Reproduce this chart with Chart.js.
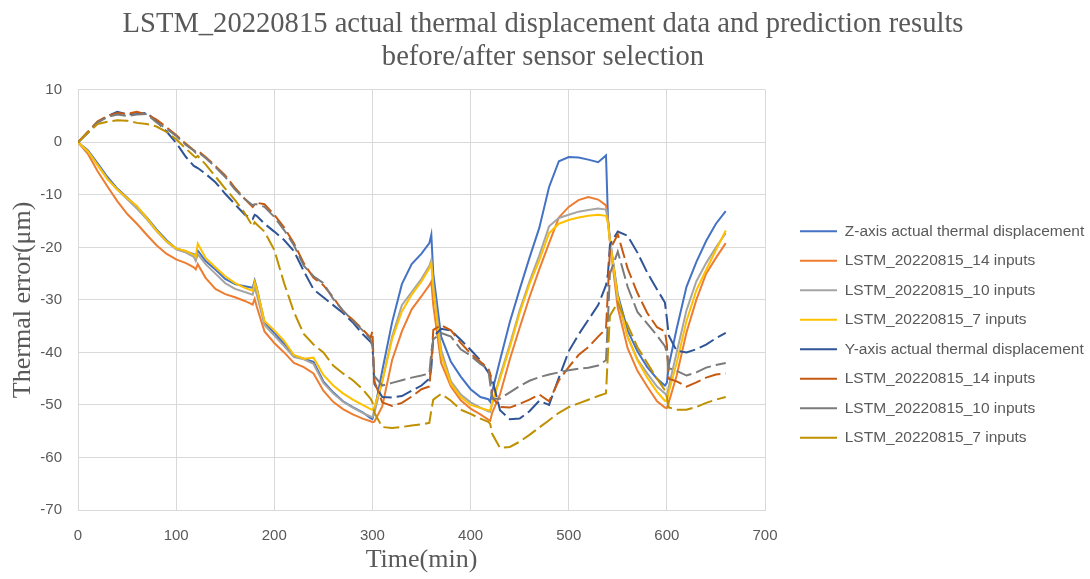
<!DOCTYPE html>
<html><head><meta charset="utf-8">
<script src="https://cdn.jsdelivr.net/npm/chart.js@4/dist/chart.umd.min.js"></script>
<style>html,body{margin:0;padding:0;background:#fff;}canvas{display:block;}</style>
</head><body>
<canvas id="c" width="1090" height="579"></canvas>
<script>
const titleLines = ['LSTM_20220815 actual thermal displacement data and prediction results', 'before/after sensor selection'];
const xTitle = 'Time(min)';
const yTitle = 'Thermal error(\u03bcm)';
const xTicksRange = { min: 0, max: 700, step: 100 };
const yTicksRange = { min: -70, max: 10, step: 10 };

const seriesNames = [
  'Z-axis actual thermal displacement',
  'LSTM_20220815_14 inputs',
  'LSTM_20220815_10 inputs',
  'LSTM_20220815_7 inputs',
  'Y-axis actual thermal displacement',
  'LSTM_20220815_14 inputs',
  'LSTM_20220815_10 inputs',
  'LSTM_20220815_7 inputs'
];

const times = [0,10,20,30,40,50,60,70,80,90,100,110, 118,120,122, 130,140,150,160,170, 178,180,182,
  190,200,210,220,230,240,250,260,270,280,290, 298,300,302, 310,320,330,340,350, 358,360,362,
  370,380,390,400,410, 418,420,422, 430,440,450,460,470,480,490,500,510,520,530, 538,540,542,
  550,560,570,580,590, 598,600,602, 610,620,630,640,650,660];

const zActual = [0,-1.5,-4.0,-6.6,-8.8,-10.5,-12.3,-14.3,-16.6,-18.6,-20.2,-20.8,
  -21.3,-21.6,-20.6, -22.6,-24.2,-26.0,-27.0,-27.4, -27.7,-26.3,-27.6,
  -34.2,-36.3,-38.3,-40.6,-41.2,-41.8,-45.5,-47.6,-49.3,-50.4,-51.4, -52.5,-52.7,-51.2,
  -43.5,-34.3,-27.0,-23.2,-21.2, -19.2,-17.6,-25.0,
  -37.0,-41.8,-44.6,-47.0,-48.5, -48.9,-49.4,-47.5,
  -41.5,-34.2,-28.0,-22.0,-16.3,-8.5,-3.6,-2.8,-2.9,-3.3,-3.8, -2.5,-14.5,-18.5,
  -29.0,-35.8,-39.8,-42.8,-45.0, -46.3,-45.8,-42.5, -35.5,-27.5,-22.8,-18.8,-15.5,-13.1];

const zLstm14 = [0,-2.2,-5.5,-8.4,-11.2,-13.6,-15.5,-17.6,-19.6,-21.2,-22.3,-23.0,
  -23.8,-24.2,-23.2, -25.8,-27.9,-28.9,-29.5,-30.2, -30.9,-29.8,-31.2,
  -36.0,-38.2,-40.0,-42.0,-42.8,-44.0,-47.3,-49.4,-50.8,-51.8,-52.6, -53.1,-53.3,-53.2,
  -50.3,-41.5,-36.0,-31.8,-29.3, -27.2,-26.5,-31.0,
  -42.0,-46.5,-49.1,-50.7,-51.8, -52.8,-53.0,-51.5,
  -48.0,-41.3,-35.3,-29.5,-24.2,-19.2,-14.3,-12.3,-11.0,-10.4,-10.9, -12.0,-15.0,-19.0,
  -31.5,-39.2,-43.5,-46.5,-49.3, -50.5,-50.6,-49.5, -44.4,-36.2,-30.0,-25.0,-22.0,-19.2];

const zLstm10 = [0,-1.8,-4.3,-6.9,-9.0,-10.8,-12.6,-14.6,-16.9,-18.9,-20.4,-21.0,
  -21.8,-22.6,-21.3, -23.2,-25.0,-26.8,-27.9,-28.5, -29.0,-27.6,-28.9,
  -34.8,-36.8,-38.8,-40.9,-41.3,-42.2,-45.8,-47.8,-49.4,-50.5,-51.5, -52.2,-52.3,-51.5,
  -45.5,-37.0,-31.0,-28.5,-26.0, -23.5,-22.4,-27.0,
  -39.5,-45.5,-48.0,-49.5,-50.5, -51.2,-51.3,-49.8,
  -44.5,-38.5,-32.0,-26.5,-21.5,-16.0,-14.4,-13.8,-13.2,-12.9,-12.6, -12.8,-15.0,-18.5,
  -30.0,-37.0,-41.3,-44.0,-46.5, -47.8,-48.2,-46.5, -40.0,-32.0,-26.5,-23.0,-20.0,-17.3];

const zLstm7 = [0,-1.7,-4.4,-7.0,-9.0,-10.6,-12.1,-14.4,-16.8,-18.8,-20.2,-20.7,
  -21.4,-21.8,-19.3, -22.0,-23.8,-25.5,-26.8,-27.7, -28.3,-26.6,-27.8,
  -34.0,-35.8,-37.8,-40.5,-41.2,-41.0,-44.3,-46.3,-47.8,-49.0,-50.0, -50.8,-50.9,-50.4,
  -45.6,-37.5,-32.2,-29.0,-26.5, -24.0,-23.0,-28.0,
  -40.5,-46.0,-48.5,-50.0,-50.6, -51.0,-51.0,-49.6,
  -45.0,-39.0,-32.5,-27.0,-22.5,-17.3,-15.5,-14.8,-14.3,-14.0,-13.8, -14.0,-15.5,-18.8,
  -29.5,-37.0,-41.5,-44.8,-47.5, -49.2,-49.3,-47.5, -42.0,-34.0,-28.2,-24.3,-20.5,-16.8];

const yActual = [0,1.8,3.8,5.0,5.8,5.3,5.4,5.6,4.0,2.1,-0.1,-2.8,
  -4.5,-4.7,-4.9, -6.0,-7.6,-9.8,-11.8,-13.8, -14.6,-13.8,-14.0,
  -15.5,-17.0,-18.6,-20.7,-24.5,-28.0,-29.5,-31.0,-32.5,-34.3,-36.5, -38.0,-38.4,-46.0,
  -48.5,-48.6,-48.3,-47.3,-46.3, -45.0,-43.0,-37.0,
  -35.5,-35.8,-37.6,-39.5,-41.5, -43.8,-44.3,-45.0,
  -51.0,-52.7,-52.6,-51.2,-49.2,-50.0,-44.8,-39.8,-36.6,-33.8,-31.0, -27.2,-25.0,-19.5,
  -17.0,-17.8,-21.0,-24.8,-28.0, -30.5,-33.5,-36.8, -39.7,-40.0,-39.4,-38.5,-37.3,-36.3];

const yLstm14 = [0,2.0,4.0,5.0,5.6,5.4,5.8,5.3,4.3,2.9,1.4,-0.3,
  -1.5,-1.8,-1.6, -2.8,-4.5,-6.3,-8.7,-10.8, -12.3,-11.8,-11.5,
  -11.8,-13.8,-16.2,-19.2,-23.0,-25.8,-27.2,-29.5,-32.2,-33.8,-35.6, -37.2,-36.0,-45.5,
  -49.5,-50.2,-49.6,-48.4,-47.0, -46.5,-42.0,-35.7,
  -34.8,-35.8,-38.2,-40.2,-41.8, -43.0,-44.0,-48.5,
  -50.4,-50.5,-49.8,-49.0,-48.0,-49.3,-45.3,-42.8,-40.5,-39.0,-37.0, -35.5,-28.0,-20.5,
  -17.5,-24.0,-28.7,-32.5,-35.2, -36.0,-38.5,-45.0, -45.5,-46.5,-45.7,-44.8,-44.2,-44.0];

const yLstm10 = [0,1.8,3.8,4.8,5.3,5.0,5.3,5.4,3.8,2.6,1.2,-0.5,
  -1.6,-2.0,-1.8, -3.0,-4.7,-6.6,-9.0,-10.8, -12.0,-11.8,-11.8,
  -12.3,-14.2,-16.7,-19.6,-23.5,-25.5,-26.8,-29.8,-32.0,-34.0,-35.8, -37.5,-38.9,-44.5,
  -46.3,-45.8,-45.3,-44.8,-44.4, -44.0,-40.0,-37.5,
  -36.3,-37.0,-39.4,-40.6,-42.2, -43.2,-46.0,-48.8,
  -48.8,-47.6,-46.4,-45.4,-44.7,-44.2,-43.8,-43.4,-43.1,-42.9,-42.5, -41.5,-33.5,-25.0,
  -20.8,-27.5,-32.3,-34.5,-36.8, -38.8,-40.0,-43.0, -43.5,-44.4,-43.8,-42.9,-42.4,-42.0];

const yLstm7 = [0,1.8,3.5,3.9,4.2,4.1,3.7,3.5,3.0,2.0,0.6,-1.2,
  -2.6,-2.9,-2.6, -4.2,-6.5,-8.8,-11.0,-13.5, -16.0,-15.2,-15.6,
  -17.0,-20.5,-26.8,-32.3,-36.5,-38.5,-40.0,-42.5,-44.0,-45.3,-47.0, -48.8,-49.5,-51.5,
  -54.2,-54.4,-54.2,-53.9,-53.7, -53.4,-51.0,-49.0,
  -47.9,-49.2,-50.9,-51.7,-52.6, -53.2,-53.6,-55.5,
  -58.2,-58.0,-57.0,-55.7,-54.3,-52.9,-51.5,-50.4,-49.7,-49.0,-48.3, -47.8,-40.0,-33.0,
  -30.5,-34.8,-39.0,-42.0,-45.0, -47.2,-48.5,-50.5, -50.9,-50.9,-50.4,-49.6,-49.0,-48.5];

const seriesValues = [zActual, zLstm14, zLstm10, zLstm7, yActual, yLstm14, yLstm10, yLstm7];
const seriesColors = ['#4472C4','#ED7D31','#A5A5A5','#FFC000','#2F5597','#C55A11','#7B7B7B','#BF9000'];
const seriesDashed = [false,false,false,false,true,true,true,true];

const datasets = seriesValues.map((vals, i) => ({
  label: seriesNames[i],
  data: times.map((t, k) => ({ x: t, y: vals[k] })),
  borderColor: seriesColors[i],
  backgroundColor: seriesColors[i],
  borderWidth: 2,
  borderDash: seriesDashed[i] ? [16, 5] : [],
  pointRadius: 0,
  tension: 0,
  fill: false,
  order: seriesValues.length - i
}));

// nudges for the legend and title blocks after Chart.js lays them out
const boxShift = {
  id: 'boxShift',
  afterLayout(chart) {
    const lg = chart.legend;
    if (lg) {
      lg.left += 21;
      lg.right = chart.width;
      lg.width = lg.right - lg.left;
      lg.top += 45; lg.bottom += 45;
    }
    const tb = chart.titleBlock;
    if (tb) { tb.left += 33; tb.right += 33; }
  }
};

const gridColor = '#D9D9D9';
const textColor = '#595959';
const sans = '"Liberation Sans", Arial, sans-serif';
const serif = '"Liberation Serif", "Times New Roman", serif';

new Chart(document.getElementById('c'), {
  type: 'line',
  data: { datasets },
  plugins: [boxShift],
  options: {
    responsive: false,
    animation: false,
    layout: { padding: { left: 0, right: 70, top: 0, bottom: 0 } },
    plugins: {
      title: {
        display: true, text: titleLines, color: textColor,
        font: { family: serif, size: 28.6, weight: 'normal', lineHeight: 1.15 },
        padding: { top: 8, bottom: 16 }
      },
      legend: {
        position: 'right',
        labels: {
          usePointStyle: true, pointStyle: 'line', pointStyleWidth: 37, boxWidth: 37,
          font: { family: sans, size: 15.5 }, color: textColor, padding: 14,
          sort: (a, b) => a.datasetIndex - b.datasetIndex
        }
      },
      tooltip: { enabled: false }
    },
    scales: {
      x: {
        type: 'linear', min: xTicksRange.min, max: xTicksRange.max,
        ticks: { stepSize: xTicksRange.step, color: textColor, font: { family: sans, size: 15 }, padding: 17 },
        grid: { color: gridColor, drawTicks: false },
        border: { color: gridColor },
        title: { display: true, text: xTitle, color: textColor, font: { family: serif, size: 26 }, padding: { top: 0, bottom: 3 } },
        afterFit(s) { s.height = 69; }
      },
      y: {
        type: 'linear', min: yTicksRange.min, max: yTicksRange.max,
        ticks: { stepSize: yTicksRange.step, color: textColor, font: { family: sans, size: 15 }, padding: 16 },
        grid: { color: gridColor, drawTicks: false },
        border: { color: gridColor },
        title: { display: true, text: yTitle, color: textColor, font: { family: serif, size: 26 }, padding: { top: 8, bottom: 0 } },
        afterFit(s) { s.width = 78; }
      }
    }
  }
});
</script>
</body></html>
